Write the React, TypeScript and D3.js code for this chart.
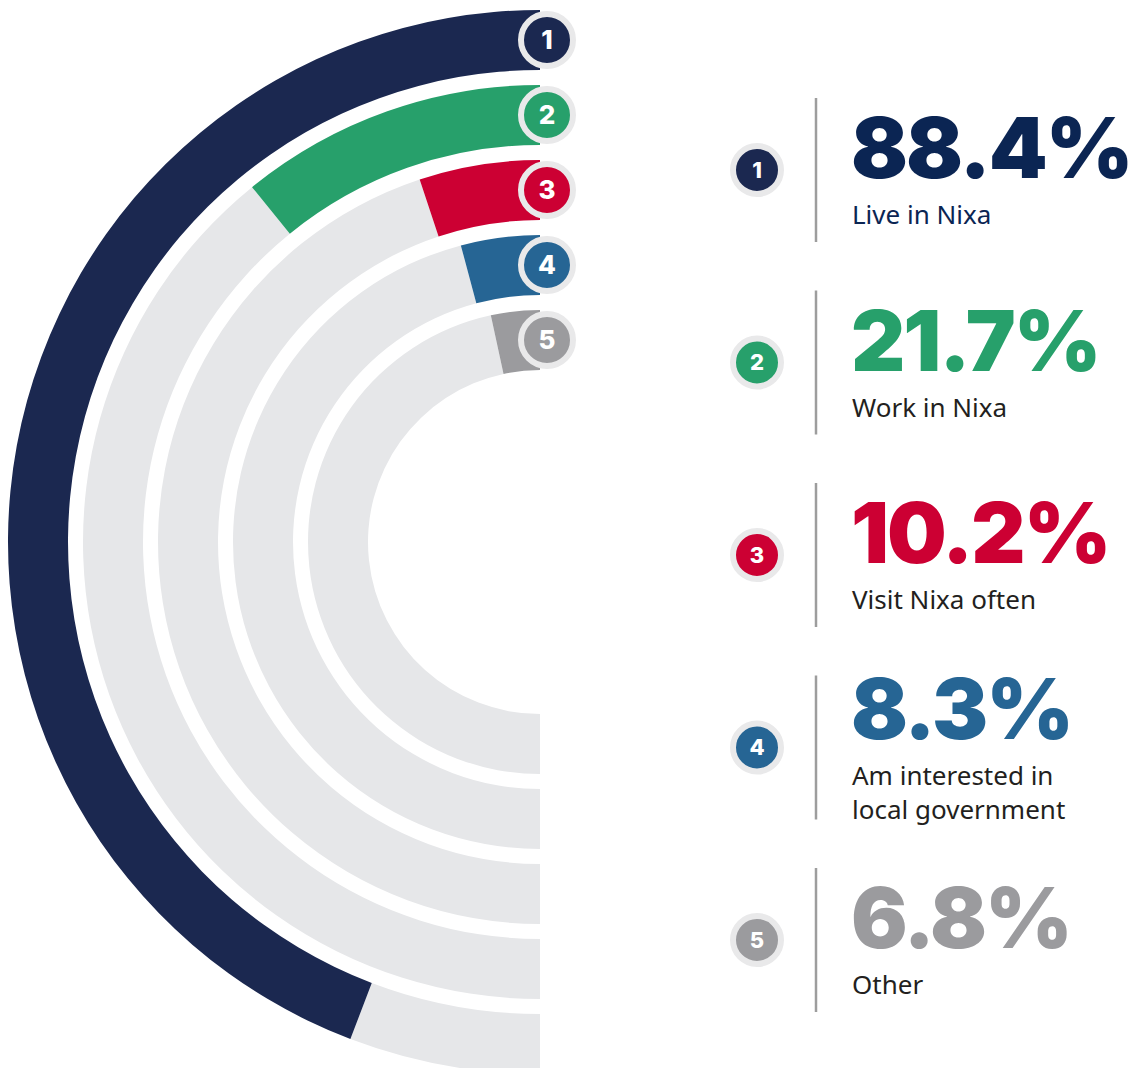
import { useEffect, useRef } from 'react';
import * as d3 from 'd3';

const categories = ["Live in Nixa", "Work in Nixa", "Visit Nixa often", "Am interested in\nlocal government", "Other"];
const values = [88.4, 21.7, 10.2, 8.3, 6.8];
const colors = ["#1b2850", "#27a06b", "#cc0033", "#266594", "#9b9b9e"];
const numberColors = ["#0b2553", "#27a06b", "#cc0033", "#266594", "#9b9b9e"];
const labelColors = ["#0b2553", "#231f20", "#231f20", "#231f20", "#231f20"];

const WIDTH = 1135;
const HEIGHT = 1068;

export default function App() {
  const svgRef = useRef<SVGSVGElement>(null);

  useEffect(() => {
    if (!svgRef.current) return;
    const svg = d3.select(svgRef.current);
    svg.selectAll("*").remove();

    const cx = 540;
    const cy = 542;
    const ringWidth = 60;
    const ringStep = 75;
    const outer0 = 532;

    // value -> angle, 100% fills the left half circle
    const angle = d3.scaleLinear().domain([0, 100]).range([0, -Math.PI]);

    const data = values.map((v, i) => ({
      value: v,
      label: categories[i],
      color: colors[i],
      outer: outer0 - i * ringStep,
      inner: outer0 - i * ringStep - ringWidth,
      idx: i + 1
    }));

    const arc = d3.arc<any>();
    const g = svg.append("g").attr("transform", `translate(${cx},${cy})`);

    // grey track
    g.selectAll(".track")
      .data(data)
      .enter()
      .append("path")
      .attr("class", "track")
      .attr("fill", "#e6e7e9")
      .attr("d", d => arc({ innerRadius: d.inner, outerRadius: d.outer, startAngle: angle(d.value), endAngle: angle(100) }));

    // value bars
    g.selectAll(".bar")
      .data(data)
      .enter()
      .append("path")
      .attr("class", "bar")
      .attr("fill", d => d.color)
      .attr("d", d => arc({ innerRadius: d.inner, outerRadius: d.outer, startAngle: angle(0), endAngle: angle(d.value) }));

    // badges on the rings
    const badge = (sel: any, x: number, y: number, r: number, fill: string, n: number, fs: number) => {
      const b = sel.append("g").attr("transform", `translate(${x},${y})`);
      b.append("circle").attr("r", r).attr("fill", fill).attr("stroke", "#e9e9ea").attr("stroke-width", 6);
      b.append("text")
        .attr("text-anchor", "middle")
        .attr("dy", "0.36em")
        .attr("fill", "#fff")
        .style("font-family", "Inter, sans-serif")
        .style("font-weight", 800)
        .style("font-size", `${fs}px`)
        .text(n);
    };

    data.forEach(d => {
      badge(svg, cx + 7, cy - (d.outer - ringWidth / 2), 26, d.color, d.idx, 26);
    });

    // legend
    const legendTop = 170;
    const legendStep = 192.5;
    data.forEach((d, i) => {
      const y = legendTop + i * legendStep;
      badge(svg, 757, y, 24, d.color, d.idx, 22);

      svg.append("line")
        .attr("x1", 816).attr("x2", 816)
        .attr("y1", y - 72).attr("y2", y + 72)
        .attr("stroke", "#9d9d9d")
        .attr("stroke-width", 2.5);

      const lines = d.label.split("\n");
      const shift = (lines.length - 1) * 17;
      svg.append("text")
        .attr("x", 851)
        .attr("y", y + 8 - shift)
        .attr("fill", numberColors[i])
        .style("font-family", "Inter, sans-serif")
        .style("font-weight", 900)
        .style("font-size", "84px")
        .style("letter-spacing", "-2px")
        .text(`${d.value}%`);

      lines.forEach((l, j) => {
        svg.append("text")
          .attr("x", 852)
          .attr("y", y + 54 - shift + j * 34)
          .attr("fill", labelColors[i])
          .style("font-family", "'Noto Sans', sans-serif")
          .style("font-size", "26px")
          .text(l);
      });
    });
  }, []);

  return (
    <div style={{ position: "absolute", left: 0, top: 0, background: "#fff" }}>
      <svg ref={svgRef} width={WIDTH} height={HEIGHT} style={{ display: "block" }}></svg>
    </div>
  );
}
